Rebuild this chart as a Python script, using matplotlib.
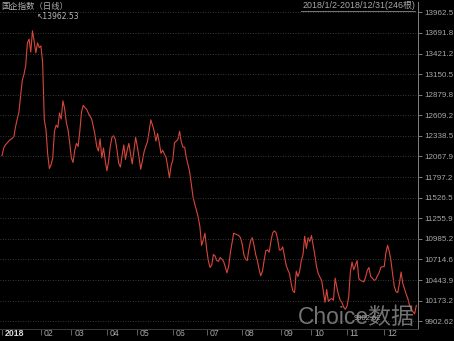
import matplotlib
matplotlib.use("Agg")
import matplotlib.pyplot as plt
import matplotlib.transforms as mtransforms

plt.rcParams['font.family'] = ['Liberation Sans', 'Noto Sans CJK SC', 'DejaVu Sans']

# daily closes of the index, one list per month
jan = [12080, 12180, 12220, 12245, 12270, 12290, 12305, 12330, 12460, 12560, 12650, 12870,
       13070, 13150, 13260, 13560, 13610, 13440, 13720, 13580, 13430, 13560, 13500]
feb = [13520, 13300, 12550, 12420, 12100, 11910, 11960, 12050, 12400, 12480, 12450, 12640,
       12560, 12800, 12700, 12520, 12420, 12250]
mar = [12050, 11990, 12150, 12240, 12200, 12400, 12650, 12740, 12710, 12690, 12640, 12600,
       12560, 12460, 12350, 12200, 12140, 12300, 12050, 12180, 12020]
apr = [11880, 12000, 12200, 12320, 12340, 12290, 12150, 11980, 11930, 12080, 12220, 12030,
       12150, 12240, 12100, 11970, 12150, 12320]
may = [12200, 12060, 11900, 12010, 12130, 12200, 12260, 12400, 12550, 12480, 12400, 12270,
       12370, 12250, 12110, 12150, 12100, 12060, 11930, 11790, 11950]
jun = [12020, 12250, 12270, 12290, 12400, 12260, 12190, 12190, 12050, 11960, 11860, 11700,
       11530, 11440, 11360, 11270, 11150, 10900, 10970, 11060]
jul = [10850, 10700, 10610, 10640, 10780, 10760, 10700, 10690, 10740, 10720, 10690, 10620,
       10540, 10620, 10800, 10930, 11060, 11050, 11040, 11030, 11000]
aug = [10920, 10780, 10720, 10700, 10850, 10960, 11000, 10900, 10780, 10700, 10590, 10500,
       10560, 10700, 10830, 10840, 10810, 10950, 11060, 11090, 11070, 10980, 10840]
sep = [10840, 10880, 10760, 10640, 10580, 10530, 10400, 10300, 10280, 10560, 10490, 10560,
       10700, 10780, 11020, 10860, 11000, 10950]
oct_ = [11030, 10900, 10770, 10620, 10530, 10480, 10440, 10300, 10150, 10320, 10160, 10190,
        10200, 10180, 10470, 10350, 10250, 10180, 10150, 10090, 10060]
nov = [10100, 10220, 10550, 10680, 10580, 10640, 10700, 10460, 10440, 10430, 10420, 10480,
       10570, 10610, 10490, 10470, 10440, 10450, 10500, 10540, 10610, 10620]
dec = [10620, 10800, 10900, 10820, 10700, 10520, 10360, 10290, 10280, 10400, 10550, 10400,
       10330, 10260, 10200, 10110, 10060, 10030, 10000, 10110]

months = [jan, feb, mar, apr, may, jun, jul, aug, sep, oct_, nov, dec]
month_labels = ['2018', '02', '03', '04', '05', '06', '07', '08', '09', '10', '11', '12']
ytick_labels = ['13962.5', '13691.8', '13421.2', '13150.5', '12879.8', '12609.2', '12338.5',
                '12067.9', '11797.2', '11526.5', '11255.9', '10985.2', '10714.6', '10443.9',
                '10173.2', '9902.62']
high_label = '\u219613962.53'
low_label = '9902.62'

closes = [v for m in months for v in m]
starts = []
n = 0
for m in months:
    starts.append(n)
    n += len(m)

W, H = 454, 341
fig = plt.figure(figsize=(W / 100, H / 100), dpi=100, facecolor='black')
ax = fig.add_axes([0, 12 / H, 418 / W, 327 / H], facecolor='black')

ax.plot(range(len(closes)), closes, color='#d9463b', linewidth=0.8)

ax.set_xlim(-1.2, 246)
ax.set_ylim(9801, 14098)

yt = [float(s) for s in ytick_labels]
ax.yaxis.tick_right()
ax.set_yticks(yt)
ax.set_yticklabels(ytick_labels)
ax.tick_params(axis='y', colors='#8c8c8c', labelcolor='#a8a8a8', length=3, width=0.6,
               labelsize=5.8, pad=1.5)
for v in yt:
    ax.axhline(v, color='#4a4a4a', linewidth=0.6, linestyle=(0, (1, 2)))

ax.set_xticks(starts)
ax.set_xticklabels(month_labels)
ax.tick_params(axis='x', colors='#707070', labelcolor='#a8a8a8', length=4, width=0.6,
               labelsize=6.3, pad=0)
shift = mtransforms.ScaledTranslation(2 / 72, 4 / 72, fig.dpi_scale_trans)
for i, lab in enumerate(ax.get_xticklabels()):
    lab.set_horizontalalignment('left')
    lab.set_verticalalignment('top')
    lab.set_transform(lab.get_transform() + shift)
    if i == 0:
        lab.set_color('#d8d8d8')
        lab.set_fontweight('bold')

for s in ['top', 'left']:
    ax.spines[s].set_visible(False)
ax.spines['right'].set_color('#808080')
ax.spines['right'].set_linewidth(0.7)
ax.spines['bottom'].set_color('#3c3c3c')
ax.spines['bottom'].set_linewidth(0.7)

# header texts
fig.text(1 / W, 1 - 6 / H, '国企指数（日线）', color='#b0b0b0', fontsize=6,
         family=['Noto Sans CJK SC', 'DejaVu Sans'], va='center', ha='left')
fig.text(415 / W, 1 - 5.5 / H, '2018/1/2-2018/12/31(246根)', color='#a8a8a8', fontsize=6.4,
         va='center', ha='right', family=['Liberation Sans', 'Noto Sans CJK SC'])
ax.plot([301, 415], [H - 10.5, H - 10.5], color='#a8a8a8', linewidth=0.5,
        transform=None, clip_on=False)

# high / low markers
ax.text(20.5, 13905, high_label, color='#b8b8b8', fontsize=5.5, va='center', ha='left',
        family=['DejaVu Sans'])
ax.text(208, 9935, low_label, color='#b8b8b8', fontsize=5.5, va='center', ha='left')

# watermark
fig.text(415 / W, 1 - 318 / H, 'Choice数据', color='#9a9a9a', alpha=0.75, fontsize=16.5,
         va='center', ha='right', family=['Liberation Sans', 'Noto Sans CJK SC'])

fig.savefig('out.png', dpi=100, facecolor='black')
